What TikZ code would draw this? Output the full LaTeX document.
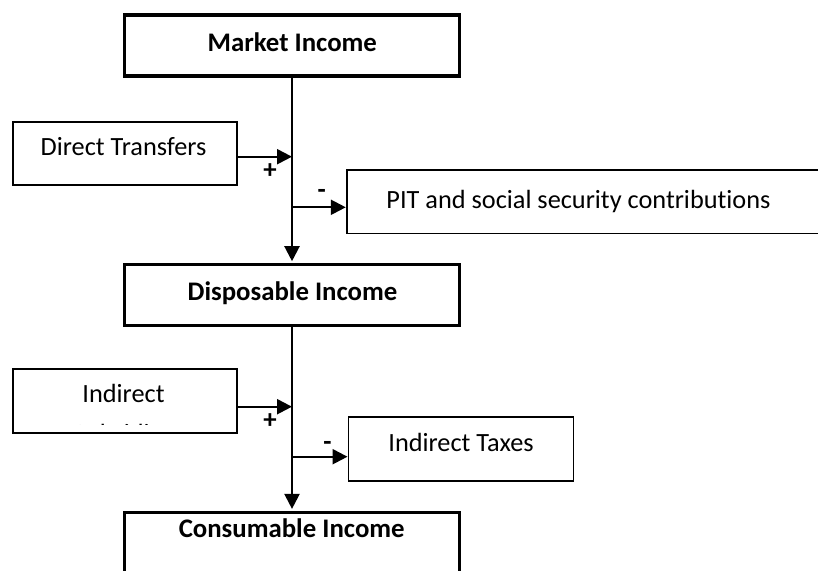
\documentclass[tikz,border=0pt]{standalone}
\usepackage{fontspec}
\setmainfont{Carlito}[Ligatures=NoCommon]
\usetikzlibrary{arrows.meta}
\begin{document}
\begin{tikzpicture}[x=1pt,y=-1pt,
  mainbox/.style={draw, line width=3.3pt, anchor=north, inner sep=0pt, minimum width=335pt},
  sidebox/.style={draw, line width=1.8pt, anchor=north west, inner sep=0pt},
  txt/.style={anchor=base, inner sep=0pt, font=\fontsize{26.3}{31}\selectfont},
  btxt/.style={anchor=base, inner sep=0pt, font=\fontsize{26.8}{31}\selectfont\bfseries},
  conn/.style={line width=2.2pt},
  arr/.style={conn, -{Triangle[length=15pt,width=15pt]}}
]
\useasboundingbox (0,0) rectangle (818,570);
\clip (0,0) rectangle (818,570);

% main boxes
\node[mainbox, minimum height=61pt] (mi) at (292,13.3) {};
\node[mainbox, minimum height=61pt] (di) at (292,262.8) {};
\node[mainbox, minimum height=90pt] (ci) at (292,510.5) {};

% side boxes
\node[sidebox, minimum width=223.7pt, minimum height=63pt] (dt) at (12,121) {};
\node[sidebox, minimum width=500pt, minimum height=63.5pt] (pit) at (345.8,169) {};
\node[sidebox, minimum width=223.7pt, minimum height=64pt] (is) at (12,368) {};
\node[sidebox, minimum width=225pt, minimum height=64pt] (it) at (347.5,416) {};

% texts
\node[btxt] (tmi) at (292.3,51.5) {Market Income};
\node[btxt] (tdi) at (292.5,300) {Disposable Income};
\node[btxt] (tci) at (291.7,537.3) {Consumable Income};
\node[txt] (tdt) at (123.5,155) {Direct Transfers};
\node[txt] (tpit) at (578.5,208.3) {PIT and social security contributions};
\node[txt] (tis) at (123.5,402.7) {Indirect};
\begin{scope}
  \clip (14,370) rectangle (234,424.5);
  \node[txt] (tis2) at (123.5,442.5) {Subsidies};
\end{scope}
\node[txt] (tit) at (461,451.7) {Indirect Taxes};

% signs
\node[btxt] (p1) at (270,178.6) {+};
\node[btxt] (m1) at (321.7,198) {-};
\node[btxt] (p2) at (270,428.6) {+};
\node[btxt] (m2) at (327.5,450) {-};

% junctions
\coordinate (j1) at (292,156.7);
\coordinate (j2) at (292,207.3);
\coordinate (j3) at (292,406.7);
\coordinate (j4) at (292,456.7);

% connectors
\draw[arr, shorten >=1.6pt] (mi.south) -- (di.north);
\draw[arr, shorten >=1.6pt] (di.south) -- (ci.north);
\draw[arr] (dt.east |- j1) -- (j1);
\draw[arr] (j2) -- (pit.west |- j2);
\draw[arr] (is.east |- j3) -- (j3);
\draw[arr] (j4) -- (it.west |- j4);
\end{tikzpicture}
\end{document}
